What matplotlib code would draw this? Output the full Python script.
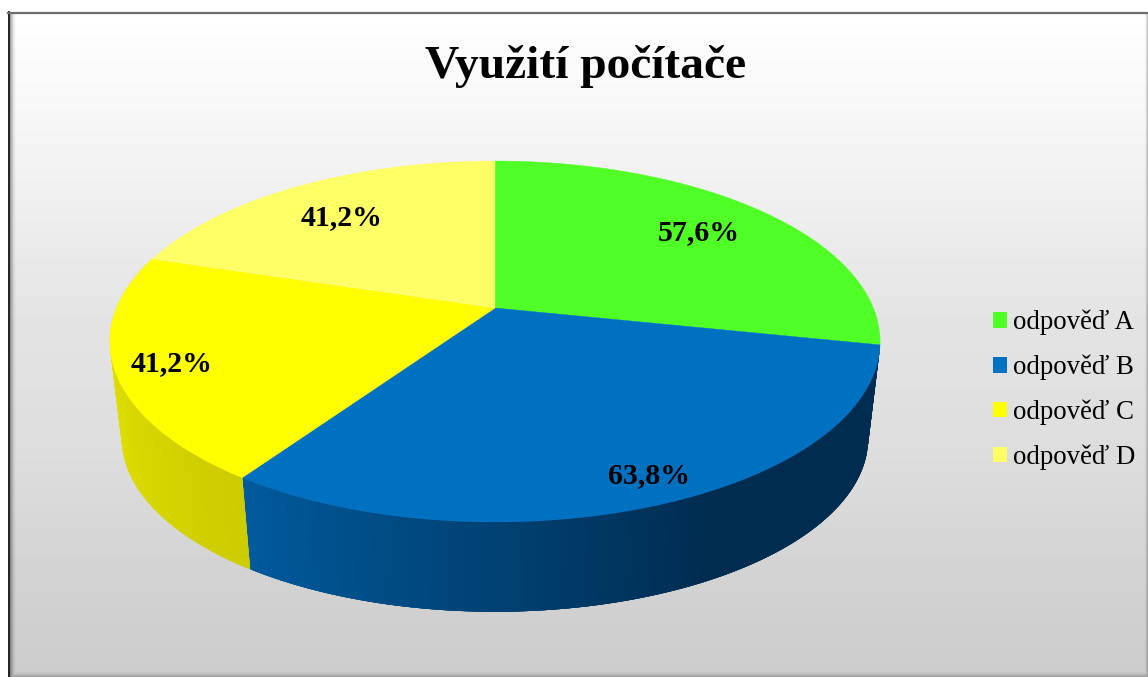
import matplotlib
matplotlib.use("Agg")
import matplotlib.pyplot as plt
from matplotlib.patches import Patch
import numpy as np

title = "Využití počítače"
categories = ["odpověď A", "odpověď B", "odpověď C", "odpověď D"]
values = [57.6, 63.8, 41.2, 41.2]
value_labels = ["57,6%", "63,8%", "41,2%", "41,2%"]
colors = ["#4FFF26", "#0070C0", "#FFFF00", "#FFFF66"]
label_radius = [0.75, 0.9, 0.85, 0.75]
label_shift = [(1, 0), (4, -5), (-3, 4), (-2, 4)]

# wall shading per slice, from the start angle to the end angle of the slice
wall_colors = {
    1: [(0.0, "#002C50"), (0.45, "#002C50"), (1.0, "#005A9C")],
    2: [(0.0, "#CCCC00"), (1.0, "#EEEE00")],
}

# pie geometry in pixels
cx = 495
persp = 0.1856
top_a, top_b, top_r = -117.1, 308, 378.4
side_sx, side_sy, side_yc = 0.969, 0.96, 438.5
top_yc = 341.5


def project(theta, r=1.0):
    # theta in degrees clockwise from 12 o'clock
    u = r * np.sin(np.radians(theta))
    v = r * np.cos(np.radians(theta))
    d = 1 + persp * v
    return cx + top_r * u / d, (top_a * v + top_b) / d


def project_low(theta):
    x, y = project(theta)
    return cx + (x - cx) * side_sx, side_yc + (y - top_yc) * side_sy


def wall_color(stops, t):
    ts = [s[0] for s in stops]
    rgb = np.array([matplotlib.colors.to_rgb(s[1]) for s in stops])
    return [np.interp(t, ts, rgb[:, i]) for i in range(3)]


fig = plt.figure(figsize=(11.48, 6.77), dpi=100, facecolor="white")
ax = fig.add_axes([0, 0, 1, 1])
ax.axis("off")

# background of the chart area
rows = np.arange(12, 677)
grey = np.interp(rows, [12, 180, 300, 480, 580, 677], [255, 241, 229, 219, 210, 204]) / 255
ax.imshow(grey[:, None], extent=(9, 1148, 677, 12), cmap="gray", vmin=0, vmax=1,
          aspect="auto", zorder=0)

# bevel round the edges
xx, yy = np.meshgrid(np.arange(9, 1148) + 0.5, rows + 0.5)
overlay = np.zeros(xx.shape + (4,))
left = np.clip(1 - (xx - 9) / 8, 0, 1) ** 2 * 0.55
bottom = np.clip(1 - (677 - yy) / 7, 0, 1) ** 2 * 0.25
right = np.clip(1 - (1148 - xx) / 4, 0, 1) ** 2 * 0.3
overlay[..., 3] = np.maximum.reduce([left, bottom, right])
ax.imshow(overlay, extent=(9, 1148, 677, 12), aspect="auto", zorder=0.5)
ax.set_xlim(0, 1148)
ax.set_ylim(677, 0)

ax.plot([8.5, 8.5], [12, 677], color="#222222", lw=1.4, zorder=1)
ax.plot([8, 1148], [12.5, 12.5], color="#6E6E6E", lw=1.6, zorder=1)

# slices
edges = np.cumsum([0] + values) / sum(values) * 360

for i, stops in wall_colors.items():
    angles = np.linspace(edges[i], edges[i + 1], 240)
    order = range(len(angles) - 1)
    # the yellow wall turns away at its far end, paint that part first
    if i == 2:
        order = reversed(order)
    for j in order:
        lo = max(j - 2, 0)
        hi = min(j + 3, len(angles))
        pair = np.array([angles[lo], angles[hi - 1]])
        x0, y0 = project(pair)
        x1, y1 = project_low(pair)
        col = wall_color(stops, j / (len(angles) - 2))
        ax.fill([x0[0], x0[1], x1[1], x1[0]], [y0[0], y0[1], y1[1], y1[0]],
                color=col, lw=0, zorder=2)

for i in range(len(values)):
    angles = np.linspace(edges[i], edges[i + 1], 200)
    x, y = project(angles)
    ax.fill(np.r_[cx, x], np.r_[top_b, y], color=colors[i], lw=0.3, zorder=3)

for i in range(len(values)):
    mid = (edges[i] + edges[i + 1]) / 2
    x, y = project(mid, label_radius[i])
    ax.text(x + label_shift[i][0], y + label_shift[i][1], value_labels[i],
            ha="center", va="center", zorder=4,
            family="Liberation Serif", weight="bold", fontsize=21.5, color="black")

ax.text(585.5, 66, title, ha="center", va="center", family="Liberation Serif",
        weight="bold", fontsize=34.2, color="black", zorder=4)

handles = [Patch(facecolor=c, edgecolor="none", label=n) for c, n in zip(colors, categories)]
ax.legend(handles=handles, loc="center left", bbox_to_anchor=(993 / 1148, 1 - 390 / 677),
          frameon=False, prop={"family": "Liberation Serif", "size": 19.4},
          handlelength=0.515, handleheight=0.515, handletextpad=0.23, labelspacing=0.718,
          borderpad=0, borderaxespad=0)

fig.savefig("out.png", dpi=100, facecolor="white")
